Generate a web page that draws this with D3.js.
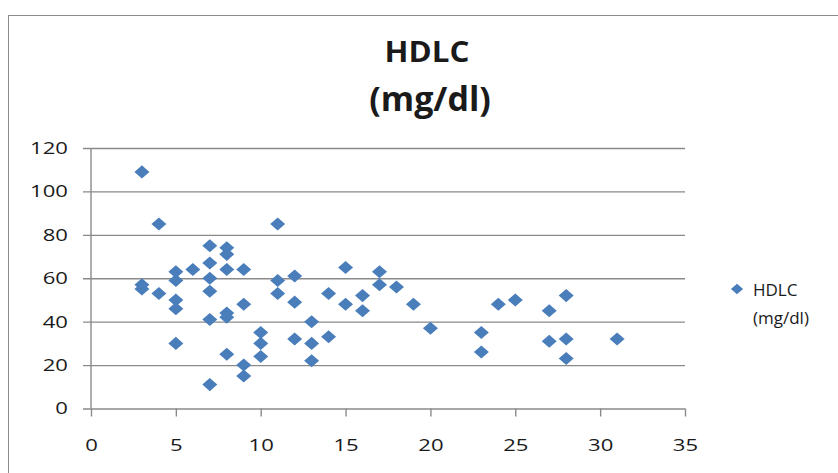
<!DOCTYPE html>
<html>
<head>
<meta charset="utf-8">
<script src="https://cdn.jsdelivr.net/npm/d3@7"></script>
<style>
  html, body { margin: 0; padding: 0; background: #fff; }
  svg { display: block; }
  text { font-family: "Open Sans", "DejaVu Sans", sans-serif; fill: #1a1a1a; }
</style>
</head>
<body>
<svg id="chart" width="838" height="473"></svg>
<script>
// Years (x) and HDLC readings in mg/dl (y), one entry per patient
const xValues = [3, 3, 3, 4, 4, 5, 5, 5, 5, 5, 6,
  7, 7, 7, 7, 7, 7, 8, 8, 8, 8, 8, 8,
  9, 9, 9, 9, 10, 10, 10, 11, 11, 11, 12, 12, 12,
  13, 13, 13, 14, 14, 15, 15, 16, 16, 17, 17, 18, 19, 20,
  23, 23, 24, 25, 27, 27, 28, 28, 28, 31];
const hdlcValues = [109, 57, 55, 85, 53, 63, 59, 50, 46, 30, 64,
  75, 67, 60, 54, 41, 11, 74, 71, 64, 44, 42, 25,
  64, 48, 20, 15, 35, 30, 24, 85, 59, 53, 61, 49, 32,
  40, 30, 22, 53, 33, 65, 48, 52, 45, 63, 57, 56, 48, 37,
  35, 26, 48, 50, 45, 31, 52, 32, 23, 32];
const xTicks = [0, 5, 10, 15, 20, 25, 30, 35];
const yTicks = [0, 20, 40, 60, 80, 100, 120];
const titleLines = ["HDLC", "(mg/dl)"];
const seriesName = ["HDLC", "(mg/dl)"];

const points = xValues.map((x, i) => ({ x, y: hdlcValues[i] }));

const svg = d3.select("#chart");
const SX = 1.3;            // horizontal stretch applied to axis labels
const BLUE = "#4a7ebb";
const GRID = "#8a8a8a";

const plot = { left: 91, right: 685, top: 148, bottom: 408.5 };
const x = d3.scaleLinear().domain([0, 35]).range([plot.left, plot.right]);
const y = d3.scaleLinear().domain([0, 120]).range([plot.bottom, plot.top]);

// chart frame
svg.append("rect")
  .attr("x", 8.5).attr("y", 15.5)
  .attr("width", 860).attr("height", 500)
  .attr("fill", "#fff").attr("stroke", "#8c8c8c").attr("stroke-width", 1);

// stretch a text element horizontally around its anchor point
function stretch(sel, sx) {
  sel.each(function () {
    const t = d3.select(this);
    const tx = +t.attr("x") || 0;
    t.attr("x", 0).attr("transform", `translate(${tx},0) scale(${sx},1)`);
  });
}

// title: two lines, the unit line set larger
svg.append("text")
  .attr("text-anchor", "middle")
  .style("font-weight", "700")
  .style("font-size", "28px")
  .attr("transform", "translate(427,62) scale(1.12,1)")
  .text(titleLines[0]);
svg.append("text")
  .attr("text-anchor", "middle")
  .style("font-weight", "700")
  .style("font-size", "34px")
  .attr("transform", "translate(430,111)")
  .text(titleLines[1]);

// y axis: ticks drawn from the right edge so they double as gridlines
const yAxis = d3.axisLeft(y)
  .tickValues(yTicks)
  .tickSize(plot.right - plot.left + 8)
  .tickPadding(15)
  .tickFormat(d3.format("d"));
const gy = svg.append("g")
  .attr("transform", `translate(${plot.right},0)`)
  .call(yAxis);
gy.select(".domain").remove();
gy.selectAll(".tick line").attr("stroke", GRID).attr("stroke-width", 1.4);
gy.selectAll(".tick text").style("font-size", "17px").attr("fill", "#1a1a1a");
stretch(gy.selectAll(".tick text"), SX);

// x axis
const xAxis = d3.axisBottom(x)
  .tickValues(xTicks)
  .tickSize(8)
  .tickPadding(22)
  .tickFormat(d3.format("d"));
const gx = svg.append("g")
  .attr("transform", `translate(0,${plot.bottom})`)
  .call(xAxis);
gx.select(".domain").remove();
gx.selectAll(".tick line").attr("stroke", GRID).attr("stroke-width", 1.4);
gx.selectAll(".tick text").style("font-size", "17px").attr("fill", "#1a1a1a");
gx.selectAll(".tick text").each(function () {
  d3.select(this).attr("transform", `scale(${SX},1)`);
});

// vertical axis line
svg.append("line")
  .attr("x1", x(0)).attr("x2", x(0))
  .attr("y1", y(120)).attr("y2", y(0))
  .attr("stroke", GRID).attr("stroke-width", 1.4);

// diamond marker, slightly wider than tall
const diamond = {
  draw(ctx, size) {
    const rx = Math.sqrt(size) / 2 * 1.07, ry = Math.sqrt(size) / 2 * 0.93;
    ctx.moveTo(0, -ry); ctx.lineTo(rx, 0); ctx.lineTo(0, ry); ctx.lineTo(-rx, 0); ctx.closePath();
  }
};
const marker = d3.symbol().type(diamond).size(196);

svg.append("g").selectAll("path")
  .data(points)
  .join("path")
  .attr("d", marker)
  .attr("transform", d => `translate(${x(d.x)},${y(d.y)})`)
  .attr("fill", BLUE);

// legend
const legend = svg.append("g").attr("transform", "translate(737,289)");
legend.append("path")
  .attr("d", d3.symbol().type(diamond).size(130))
  .attr("fill", BLUE);
const lt = legend.append("text")
  .style("font-size", "17px")
  .attr("transform", "translate(16,0)");
seriesName.forEach((line, i) => {
  lt.append("tspan").attr("x", 0).attr("y", 7 + i * 28).text(line);
});
</script>
</body>
</html>
